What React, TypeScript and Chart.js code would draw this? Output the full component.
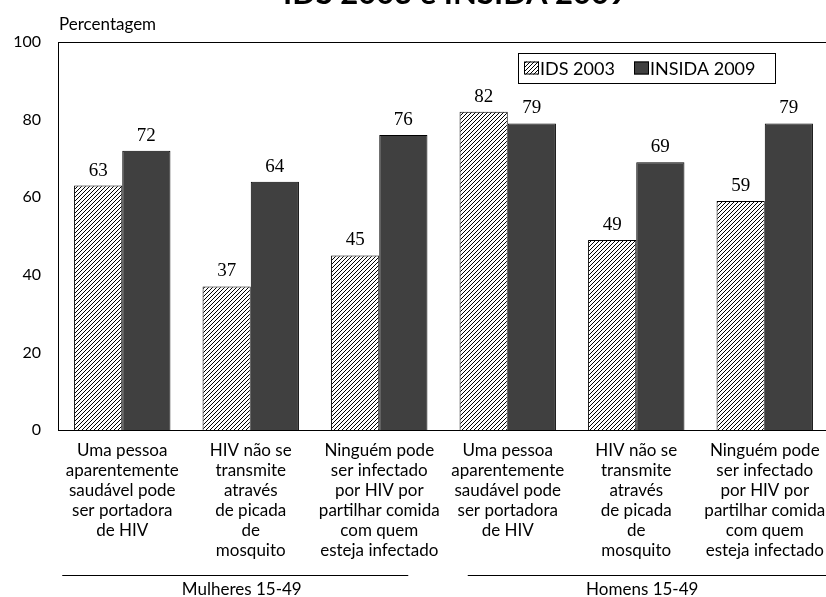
import React, { useEffect, useRef } from 'react';
import { Chart, registerables } from 'chart.js';

Chart.register(...registerables);

const categories: string[][] = [
  ['Uma pessoa', 'aparentemente', 'saudável pode', 'ser portadora', 'de HIV'],
  ['HIV não se', 'transmite', 'através', 'de picada', 'de', 'mosquito'],
  ['Ninguém pode', 'ser infectado', 'por HIV por', 'partilhar comida', 'com quem', 'esteja infectado'],
  ['Uma pessoa', 'aparentemente', 'saudável pode', 'ser portadora', 'de HIV'],
  ['HIV não se', 'transmite', 'através', 'de picada', 'de', 'mosquito'],
  ['Ninguém pode', 'ser infectado', 'por HIV por', 'partilhar comida', 'com quem', 'esteja infectado'],
];
const ids2003 = [63, 37, 45, 82, 49, 59];
const insida2009 = [72, 64, 76, 79, 69, 79];
const seriesNames = ['IDS 2003', 'INSIDA 2009'];
const groupLabels = ['Mulheres 15-49', 'Homens 15-49'];
const groupRanges = [[0, 2], [3, 5]];
const titleText = 'IDS 2003 e INSIDA 2009';
const yAxisTitle = 'Percentagem';

const SANS = 'Lato, "Noto Sans", sans-serif';
const SERIF = '"Liberation Serif", "DejaVu Serif", serif';
const DARK = '#404040';

function makeHatch(ctx: CanvasRenderingContext2D) {
  const s = 4;
  const pc = document.createElement('canvas');
  pc.width = s;
  pc.height = s;
  const p = pc.getContext('2d')!;
  p.fillStyle = '#fff';
  p.fillRect(0, 0, s, s);
  p.strokeStyle = '#000';
  p.lineWidth = 1;
  p.beginPath();
  p.moveTo(0, s);
  p.lineTo(s, 0);
  p.moveTo(-1, 1);
  p.lineTo(1, -1);
  p.moveTo(s - 1, s + 1);
  p.lineTo(s + 1, s - 1);
  p.stroke();
  return ctx.createPattern(pc, 'repeat')!;
}

export default function App() {
  const ref = useRef<HTMLCanvasElement>(null);

  useEffect(() => {
    const canvas = ref.current!;
    const ctx = canvas.getContext('2d')!;
    const hatch = makeHatch(ctx);

    const frame = {
      id: 'frame',
      afterDatasetsDraw(chart: any) {
        const { ctx, chartArea: a } = chart;
        ctx.save();
        ctx.strokeStyle = '#000';
        ctx.lineWidth = 1;
        ctx.strokeRect(Math.round(a.left) + 0.5, Math.round(a.top) + 0.5, Math.round(a.right - a.left), Math.round(a.bottom - a.top));
        ctx.restore();
      },
    };

    const labels = {
      id: 'valueLabels',
      afterDatasetsDraw(chart: any) {
        const { ctx } = chart;
        ctx.save();
        ctx.font = `19px ${SERIF}`;
        ctx.fillStyle = '#000';
        ctx.textAlign = 'center';
        ctx.textBaseline = 'alphabetic';
        chart.data.datasets.forEach((ds: any, di: number) => {
          const meta = chart.getDatasetMeta(di);
          meta.data.forEach((bar: any, i: number) => {
            ctx.fillText(String(ds.data[i]), bar.x, bar.y - 10);
          });
        });
        ctx.restore();
      },
    };

    const extras = {
      id: 'extras',
      afterDraw(chart: any) {
        const { ctx } = chart;
        const xs = chart.scales.x;
        ctx.save();
        // title (mostly cut off at the top of the page)
        ctx.fillStyle = '#000';
        ctx.font = `bold 31px ${SANS}`;
        ctx.textAlign = 'center';
        ctx.textBaseline = 'alphabetic';
        ctx.fillText(titleText, 455, 24);
        // y axis title
        ctx.font = `17px ${SANS}`;
        ctx.textAlign = 'left';
        ctx.textBaseline = 'middle';
        ctx.fillText(yAxisTitle, 59, 45);
        // legend
        const lx = 518, ly = 73, lw = 257, lh = 30;
        ctx.fillStyle = '#fff';
        ctx.fillRect(lx, ly, lw, lh);
        ctx.strokeStyle = '#000';
        ctx.lineWidth = 1;
        ctx.strokeRect(lx + 0.5, ly + 0.5, lw, lh);
        const sw = 15, sh = 13, cy = ly + lh / 2;
        ctx.fillStyle = hatch;
        ctx.fillRect(524, cy - sh / 2, sw, sh);
        ctx.strokeRect(524.5, cy - sh / 2 + 0.5, sw - 1, sh - 1);
        ctx.fillStyle = DARK;
        ctx.fillRect(634, cy - sh / 2, sw, sh);
        ctx.strokeRect(634.5, cy - sh / 2 + 0.5, sw - 1, sh - 1);
        ctx.fillStyle = '#000';
        ctx.font = `18px ${SANS}`;
        ctx.textAlign = 'left';
        ctx.textBaseline = 'middle';
        ctx.fillText(seriesNames[0], 540, cy + 1);
        ctx.fillText(seriesNames[1], 650, cy + 1);
        // group lines and labels
        const lineY = 595.5;
        const ext = [[-60, 29], [-40, 70]];
        const lblOff = [-9, 6];
        ctx.font = `17px ${SANS}`;
        ctx.textAlign = 'center';
        groupRanges.forEach((r, gi) => {
          const x0 = xs.getPixelForValue(r[0]) + ext[gi][0];
          const x1 = xs.getPixelForValue(r[1]) + ext[gi][1];
          ctx.beginPath();
          ctx.moveTo(x0, lineY);
          ctx.lineTo(x1, lineY);
          ctx.stroke();
          const cx = (xs.getPixelForValue(r[0]) + xs.getPixelForValue(r[1])) / 2 + lblOff[gi];
          ctx.fillText(groupLabels[gi], cx, 610);
        });
        ctx.restore();
      },
    };

    const chart = new Chart(canvas, {
      type: 'bar',
      data: {
        labels: categories,
        datasets: [
          {
            label: seriesNames[0],
            data: ids2003,
            backgroundColor: hatch,
            borderColor: '#000',
            borderWidth: 1,
            categoryPercentage: 0.75,
            barPercentage: 1,
          },
          {
            label: seriesNames[1],
            data: insida2009,
            backgroundColor: DARK,
            borderColor: '#000',
            borderWidth: 1,
            categoryPercentage: 0.75,
            barPercentage: 1,
          },
        ],
      },
      options: {
        responsive: false,
        animation: false,
        layout: { padding: { top: 62, right: 11, left: 0, bottom: 0 } },
        plugins: {
          legend: { display: false },
          title: { display: false },
          tooltip: { enabled: false },
        },
        scales: {
          x: {
            grid: { display: false, drawTicks: false },
            border: { display: false },
            ticks: {
              color: '#000',
              font: { family: SANS, size: 17, lineHeight: '20px' as any },
              padding: 11,
              autoSkip: false,
              maxRotation: 0,
              minRotation: 0,
            },
            afterFit(scale: any) {
              scale.height = 167;
            },
          },
          y: {
            min: 0,
            max: 100,
            grid: { display: false, drawTicks: false },
            border: { display: false },
            ticks: {
              stepSize: 20,
              color: '#000',
              font: { family: SANS, size: 16 },
              padding: 17,
            },
            afterFit(scale: any) {
              scale.width = 58;
            },
          },
        },
      },
      plugins: [frame, labels, extras],
    });
    return () => chart.destroy();
  }, []);

  return (
    <div style={{ position: 'fixed', left: 0, top: -20, width: 840, height: 617, background: '#fff' }}>
      <canvas ref={ref} width={840} height={617} style={{ display: 'block' }} />
    </div>
  );
}
